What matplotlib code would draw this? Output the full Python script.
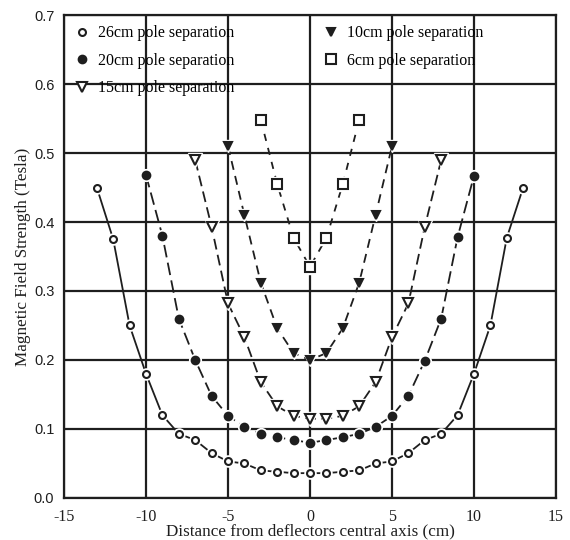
import numpy as np
import matplotlib.pyplot as plt

plt.rcParams['font.family'] = ['Liberation Serif', 'DejaVu Serif']
plt.rcParams['axes.unicode_minus'] = False

# 数据
x_26 = list(range(-13, 14))
y_26 = [0.45, 0.375, 0.25, 0.18, 0.12, 0.093, 0.084, 0.065, 0.053, 0.05, 0.04, 0.038, 0.036,
        0.036, 0.036, 0.038, 0.04, 0.05, 0.053, 0.065, 0.084, 0.093, 0.12, 0.18, 0.25, 0.377, 0.45]

x_20 = list(range(-10, 11))
y_20 = [0.468, 0.38, 0.26, 0.2, 0.148, 0.119, 0.103, 0.093, 0.088, 0.084, 0.08,
        0.084, 0.088, 0.093, 0.103, 0.119, 0.148, 0.199, 0.26, 0.378, 0.467]

x_15 = list(range(-7, 9))
y_15 = [0.49, 0.393, 0.282, 0.233, 0.168, 0.133, 0.119, 0.115,
        0.115, 0.119, 0.133, 0.168, 0.233, 0.282, 0.393, 0.49]

x_10 = list(range(-5, 6))
y_10 = [0.51, 0.41, 0.312, 0.246, 0.21, 0.2, 0.21, 0.246, 0.312, 0.41, 0.51]

x_6 = list(range(-3, 4))
y_6 = [0.548, 0.455, 0.377, 0.335, 0.377, 0.455, 0.548]

labels = ['26cm pole separation', '20cm pole separation', '15cm pole separation',
          '10cm pole separation', '6cm pole separation']

ink = '#1e1e1e'

fig = plt.figure(figsize=(5.7, 5.4), dpi=100)
ax = fig.add_axes([0.1123, 0.0778, 0.8631, 0.8944])

series = [
    (x_26, y_26, 'o', 'white', 5, '-'),
    (x_20, y_20, 'o', ink, 5.5, (0, (7, 3))),
    (x_15, y_15, 'v', 'white', 7, (0, (6, 3))),
    (x_10, y_10, 'v', ink, 6, (0, (5, 3.5))),
    (x_6, y_6, 's', 'white', 6.5, (0, (4, 4))),
]

handles = []
for (xs, ys, m, fc, ms, ls), lab in zip(series, labels):
    ax.plot(xs, ys, color=ink, lw=1.3, linestyle=ls, zorder=3)
    # 白色底衬，形成标记周围的空隙
    ax.plot(xs, ys, linestyle='none', marker=m, ms=ms + 3, mfc='white', mec='white', zorder=4)
    h, = ax.plot(xs, ys, linestyle='none', marker=m, ms=ms, mfc=fc, mec=ink, mew=1.5,
                 zorder=5, label=lab)
    handles.append(h)

ax.set_xlim(-15, 15)
ax.set_ylim(0, 0.7)
ax.set_xticks(np.arange(-15, 16, 5))
ax.set_yticks(np.arange(0, 0.71, 0.1))
ax.set_yticklabels([f'{v:.1f}' for v in np.arange(0, 0.71, 0.1)],
                   family=['Liberation Sans', 'DejaVu Sans'], fontsize=10.5)
ax.tick_params(length=0, colors=ink)
ax.tick_params(axis='x', pad=8, labelsize=11.5)
ax.tick_params(axis='y', pad=7)
ax.grid(True, color=ink, lw=1.6)
ax.set_axisbelow(True)
for s in ax.spines.values():
    s.set_linewidth(1.6)
    s.set_color(ink)

ax.set_xlabel('Distance from deflectors central axis (cm)', fontsize=12.3, color=ink, labelpad=-1)
ax.set_ylabel('Magnetic Field Strength (Tesla)', fontsize=12.3, color=ink, labelpad=2)

ax.legend(handles=handles, ncol=2, frameon=False, loc='upper left', fontsize=11.5,
          bbox_to_anchor=(0.0, 1.0), handlelength=1.0, handletextpad=0.5,
          labelspacing=0.72, columnspacing=5.5, borderaxespad=0.25)

fig.savefig('out.png', dpi=100)
